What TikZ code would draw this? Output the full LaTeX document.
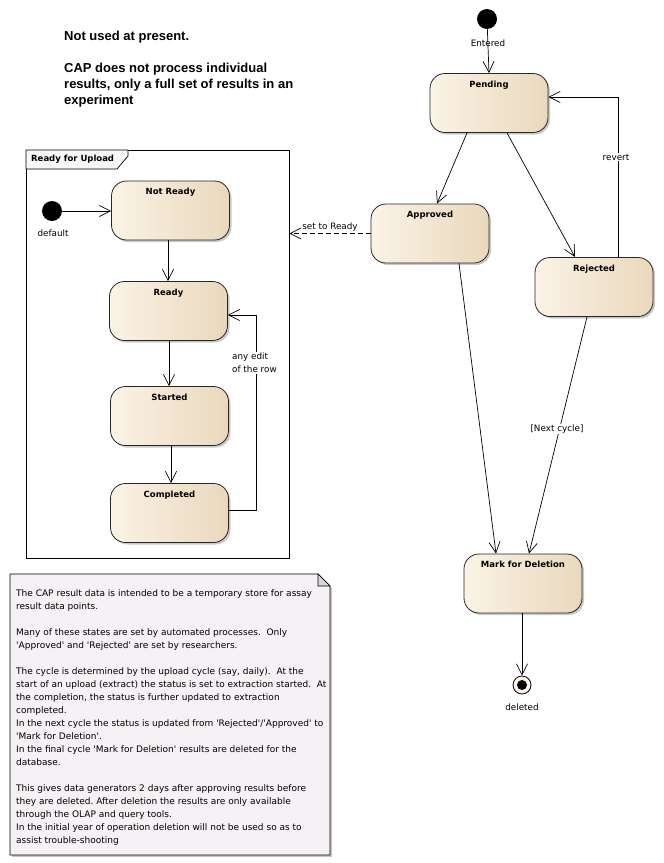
\documentclass[tikz,border=0pt]{standalone}
\usepackage{fontspec}
\setmainfont{DejaVu Sans}
\newfontfamily\headfont{Liberation Sans}
\usetikzlibrary{arrows.meta,shadows}
\frenchspacing

\newcommand\sq{\textquotesingle}

\definecolor{stateL}{HTML}{FBF3E6}
\definecolor{stateR}{HTML}{E9D8BC}
\definecolor{notefill}{HTML}{F6F1F5}
\definecolor{foldfill}{HTML}{D9D9D9}
\definecolor{tabfill}{HTML}{F9F6F8}

\tikzset{
  statebox/.style={draw=black!85, line width=0.8pt, rounded corners=15pt,
    minimum width=118pt, minimum height=59pt, inner sep=0pt,
    left color=stateL, right color=stateR, shading angle=90,
    drop shadow={shadow xshift=2pt, shadow yshift=-2pt, fill=black!35, opacity=0.6}},
  stitle/.style={font=\bfseries\fontsize{8.5}{10}\selectfont, anchor=north, yshift=-4pt},
  initdot/.style={circle, fill=black, minimum size=20pt, inner sep=0pt},
  finalring/.style={circle, draw=black, line width=0.8pt, fill=stateL, minimum size=18pt, inner sep=0pt},
  finaldot/.style={circle, fill=black, minimum size=10pt, inner sep=0pt},
  lbl/.style={font=\fontsize{8.8}{10}\selectfont, inner sep=1pt},
  edgelbl/.style={lbl, fill=white},
  trans/.style={draw=black, line width=0.7pt, -{Straight Barb[length=11pt,width=11pt,line width=0.7pt]}},
  dashedtrans/.style={trans, dash pattern=on 5pt off 3pt},
}

\begin{document}
\begin{tikzpicture}[x=1pt,y=-1pt]
\useasboundingbox (0,0) rectangle (664,863);
\fill[white] (0,0) rectangle (664,863);

% ---- heading text
\node[anchor=north west, align=left, font=\headfont\bfseries\fontsize{13}{16}\selectfont, inner sep=0pt]
  (heading) at (64,31) {Not used at present.\\[16pt]CAP does not process individual\\results, only a full set of results in an\\experiment};

% ---- composite state frame
\draw[line width=0.8pt, fill=white] (26,150) rectangle (289,558);
\node[draw=none, inner sep=0pt, minimum width=263pt, minimum height=408pt, anchor=north west] (frame) at (26,150) {};
\filldraw[fill=tabfill, draw=black, line width=0.7pt] (26,150) -- (128,150) -- (128,156) -- (117,169) -- (26,169) -- cycle;
\node[anchor=west, font=\bfseries\fontsize{8.5}{10}\selectfont, inner sep=0pt] (frametitle) at (31,159.5) {Ready for Upload};

% ---- outer states
\node[initdot] (entered) at (487,19) {};
\node[lbl, anchor=north] (enteredlbl) at (488,39) {Entered};

\node[statebox, label={[stitle]north:Pending}] (pending) at (489,103) {};
\node[statebox, label={[stitle]north:Approved}] (approved) at (430,233.5) {};
\node[statebox, label={[stitle]north:Rejected}] (rejected) at (594,287) {};
\node[statebox, label={[stitle]north:Mark for Deletion}] (mark) at (523,583.5) {};

\node[finalring] (final) at (522,685) {};
\node[finaldot] at (final.center) {};
\node[lbl, anchor=north] (finallbl) at (522,702.5) {deleted};

% ---- inner states
\node[initdot] (default) at (52,211) {};
\node[lbl, anchor=north] (defaultlbl) at (53,229) {default};

\node[statebox, label={[stitle]north:Not Ready}] (notready) at (170.5,210.5) {};
\node[statebox, label={[stitle]north:Ready}] (ready) at (168.5,311) {};
\node[statebox, label={[stitle]north:Started}] (started) at (169.5,416) {};
\node[statebox, label={[stitle]north:Completed}] (completed) at (169.5,513) {};

% ---- note
\coordinate (n1) at (10,574);
\coordinate (n2) at (318,574);
\coordinate (n3) at (330,586);
\coordinate (n4) at (330,855);
\coordinate (n5) at (10,855);
\filldraw[fill=notefill, draw=black, line width=0.8pt,
  drop shadow={shadow xshift=2pt, shadow yshift=-2pt, fill=black!35, opacity=0.6}]
  (n1) -- (n2) -- (n3) -- (n4) -- (n5) -- cycle;
\filldraw[fill=foldfill, draw=black, line width=0.6pt] (n2) -- (318,586) -- (n3) -- cycle;
\node[anchor=north west, align=left, inner sep=0pt, font=\fontsize{9}{13}\selectfont] (notetext) at (16,589.5)
{The CAP result data is intended to be a temporary store for assay\\
result data points.\\
~\\
Many of these states are set by automated processes.\ \ Only\\
\sq Approved\sq{} and \sq Rejected\sq{} are set by researchers.\\
~\\
The cycle is determined by the upload cycle (say, daily).\ \ At the\\
start of an upload (extract) the status is set to extraction started.\ \ At\\
the completion, the status is further updated to extraction\\
completed.\\
In the next cycle the status is updated from \sq Rejected\sq/\sq Approved\sq{} to\\
\sq Mark for Deletion\sq.\\
In the final cycle \sq Mark for Deletion\sq{} results are deleted for the\\
database.\\
~\\
This gives data generators 2 days after approving results before\\
they are deleted. After deletion the results are only available\\
through the OLAP and query tools.\\
In the initial year of operation deletion will not be used so as to\\
assist trouble-shooting};

% ---- transitions, outer
\draw[trans] (entered) -- (pending.north);
\draw[trans] (pending.south) ++(-22,0) coordinate (pa) -- (approved.north -| 437,0);
\draw[trans] (pending.south) ++(18,0) coordinate (pr) -- (575,257);
\draw[trans] (rejected.north) ++(24,0) coordinate (rv) |- (pending.east |- 0,97) coordinate (pe);
\node[edgelbl] (revertlbl) at (616,157) {revert};
\draw[dashedtrans] (approved.west) -- (frame.east |- approved.west);
\node[lbl, anchor=south] (settoready) at (330,233) {set to Ready};
\draw[trans] (approved.south) ++(29,0) coordinate (am) -- (mark.north -| 496,0);
\draw[trans] (rejected.south) ++(-7,0) coordinate (rm) -- (mark.north -| 529,0);
\node[edgelbl] (nextcycle) at (557,429) {[Next cycle]};
\draw[trans] (mark.south -| final.north) -- (final.north);

% ---- transitions, inner
\draw[trans] (default) -- (notready.west |- default);
\draw[trans] (notready.south -| 168,0) -- (ready.north -| 168,0);
\draw[trans] (ready.south -| 169,0) -- (started.north -| 169,0);
\draw[trans] (started.south -| 171,0) -- (completed.north -| 171,0);
\draw[trans] (completed.east |- 0,510) -| (256,315) -- (ready.east |- 0,315);
\node[edgelbl, align=left, anchor=west, font=\fontsize{8.8}{13}\selectfont] (editlbl) at (231,363) {any edit\\of the row};
\end{tikzpicture}
\end{document}
